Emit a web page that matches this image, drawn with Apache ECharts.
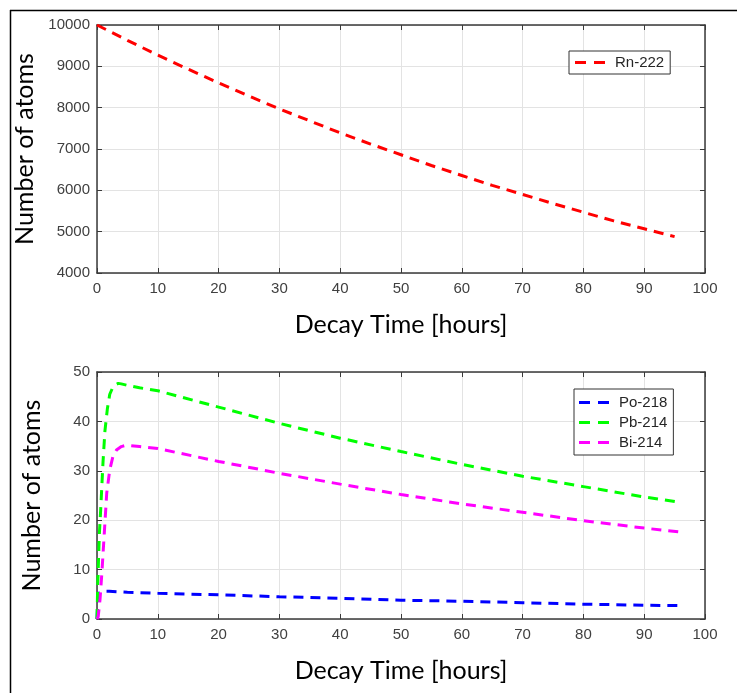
<!DOCTYPE html>
<html>
<head>
<meta charset="utf-8">
<script src="https://cdn.jsdelivr.net/npm/echarts@6/dist/echarts.min.js"></script>
<style>
html,body{margin:0;padding:0;background:#fff;}
#c{width:737px;height:693px;}
</style>
</head>
<body>
<div id="c"></div>
<script>
// Top panel: Rn-222 (time in hours, number of atoms)
const rnTime = [0,5,10,15,20,25,30,35,40,45,50,55,60,65,70,75,80,85,90,95];
const rnVals = [10000,9630,9270,8930,8600,8280,7970,7680,7390,7120,6860,6600,6360,6120,5900,5680,5470,5260,5070,4880];

// Bottom panel: daughters
const poTime = [0,0.1,0.2,0.35,0.5,1,2,5,10,20,30,40,50,60,70,80,90,96];
const poVals = [0,3.0,4.6,5.3,5.5,5.6,5.6,5.4,5.2,4.9,4.5,4.2,3.8,3.6,3.3,3.0,2.8,2.7];

const pbTime = [0,0.1,0.25,0.4,0.6,0.8,1.0,1.3,1.7,2.1,2.6,3.0,3.5,4,5,7,10,20,30,40,50,60,70,80,90,96];
const pbVals = [0,6,12,17.5,22,27,32,38,42.5,45.5,46.9,47.4,47.7,47.6,47.3,46.8,46.2,42.9,39.6,36.6,33.9,31.3,28.9,26.8,24.7,23.6];

const biTime = [0,0.2,0.5,0.8,1.2,1.6,2.1,2.6,3.2,4,4.6,5.5,7,10,20,30,40,50,60,70,80,90,96];
const biVals = [0,0.5,4,9.3,17.4,25.5,30.2,32.8,34.2,34.9,35.1,35.1,34.9,34.5,31.9,29.5,27.3,25.2,23.3,21.6,19.9,18.4,17.6];

// Axis ticks
const xTicks = {min:0, max:100, interval:10};
const yTopTicks = {min:4000, max:10000, interval:1000};
const yBotTicks = {min:0, max:50, interval:10};

function pairs(t, v){ return t.map((x,i)=>[x,v[i]]); }

const axisColor = '#3a3a3a';
const labelColor = '#404040';
const gridColor = '#e3e3e3';
const labelFont = {color:labelColor, fontSize:15, fontFamily:'Liberation Sans, Arial, sans-serif'};
const nameFontX = {color:'#000', fontSize:25, fontFamily:'Lato, Open Sans, sans-serif'};
const nameFontY = {color:'#000', fontSize:25, fontFamily:'Lato, Open Sans, sans-serif'};

function mainX(gi){
  return {type:'value', gridIndex:gi, position:'bottom', min:xTicks.min, max:xTicks.max, interval:xTicks.interval,
    name:'Decay Time [hours]', nameLocation:'middle', nameGap:39, nameTextStyle:nameFontX,
    axisLine:{show:true, onZero:false, lineStyle:{color:axisColor, width:1.5}},
    axisTick:{show:true, inside:true, length:5, lineStyle:{color:axisColor}},
    axisLabel:Object.assign({margin:8, formatter:v=>String(v)}, labelFont),
    splitLine:{show:true, lineStyle:{color:gridColor, width:1}}};
}
function mirrorX(gi){
  return {type:'value', gridIndex:gi, position:'top', min:xTicks.min, max:xTicks.max, interval:xTicks.interval,
    axisLine:{show:true, onZero:false, lineStyle:{color:axisColor, width:1.5}},
    axisTick:{show:true, inside:true, length:5, lineStyle:{color:axisColor}},
    axisLabel:{show:false}, splitLine:{show:false}};
}
function mainY(gi, t, gap){
  return {type:'value', gridIndex:gi, position:'left', min:t.min, max:t.max, interval:t.interval,
    name:'Number of atoms', nameLocation:'middle', nameGap:gap, nameTextStyle:nameFontY,
    axisLine:{show:true, onZero:false, lineStyle:{color:axisColor, width:1.5}},
    axisTick:{show:true, inside:true, length:5, lineStyle:{color:axisColor}},
    axisLabel:Object.assign({margin:7, formatter:v=>String(v)}, labelFont),
    splitLine:{show:true, lineStyle:{color:gridColor, width:1}}};
}
function mirrorY(gi, t){
  return {type:'value', gridIndex:gi, position:'right', min:t.min, max:t.max, interval:t.interval,
    axisLine:{show:true, onZero:false, lineStyle:{color:axisColor, width:1.5}},
    axisTick:{show:true, inside:true, length:5, lineStyle:{color:axisColor}},
    axisLabel:{show:false}, splitLine:{show:false}};
}
function lineSeries(name, color, xi, yi, data){
  return {name:name, type:'line', xAxisIndex:xi, yAxisIndex:yi, data:data, symbol:'none', smooth:false,
    lineStyle:{color:color, width:3, type:[10,7]}, itemStyle:{color:color}, z:5};
}

const dashIcon = 'path://M0,0H11V3H0Z M19,0H30V3H19Z';
const legendBase = {show:true, orient:'vertical', backgroundColor:'#fff', borderColor:'#333', borderWidth:1,
  itemWidth:30, itemHeight:4, itemGap:5, icon:dashIcon, itemStyle:{borderWidth:0},
  textStyle:{color:'#262626', fontSize:15, lineHeight:15, fontFamily:'Liberation Sans, Arial, sans-serif', padding:[0,0,0,5]}};

const chart = echarts.init(document.getElementById('c'), null, {renderer:'canvas'});
chart.setOption({
  animation:false,
  backgroundColor:'#fff',
  grid:[
    {left:97, top:25, width:608, height:248, containLabel:false},
    {left:97, top:372, width:608, height:247, containLabel:false}
  ],
  xAxis:[mainX(0), mirrorX(0), mainX(1), mirrorX(1)],
  yAxis:[mainY(0, yTopTicks, 46), mirrorY(0, yTopTicks), mainY(1, yBotTicks, 53), mirrorY(1, yBotTicks)],
  legend:[
    Object.assign({}, legendBase, {left:569, top:51, padding:[4,6,4,6], data:['Rn-222']}),
    Object.assign({}, legendBase, {left:574, top:389, padding:[6,6,5,5], data:['Po-218','Pb-214','Bi-214']})
  ],
  series:[
    lineSeries('Rn-222', '#ff0000', 0, 0, pairs(rnTime, rnVals)),
    lineSeries('Po-218', '#0000ff', 2, 2, pairs(poTime, poVals)),
    lineSeries('Pb-214', '#00ff00', 2, 2, pairs(pbTime, pbVals)),
    lineSeries('Bi-214', '#ff00ff', 2, 2, pairs(biTime, biVals))
  ],
  graphic:[
    {type:'line', shape:{x1:10, y1:10.5, x2:737, y2:10.5}, style:{stroke:'#000', lineWidth:1.5}, silent:true},
    {type:'line', shape:{x1:10.5, y1:10, x2:10.5, y2:693}, style:{stroke:'#000', lineWidth:1.5}, silent:true}
  ]
});
</script>
</body>
</html>
